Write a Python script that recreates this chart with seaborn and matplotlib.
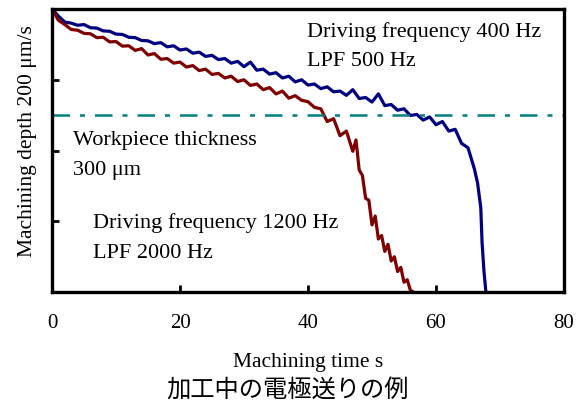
import matplotlib
matplotlib.use("Agg")
import matplotlib.pyplot as plt
import seaborn as sns
import pandas as pd

# Driving frequency 400 Hz / LPF 500 Hz (blue)
t_400 = [0, 1, 2, 3, 4, 5, 6, 7, 8, 9, 10, 11, 12, 13, 14, 15, 16, 17, 18, 19,
         20, 21, 22, 23, 24, 25, 26, 27, 28, 29, 30, 31, 32, 33, 34, 35, 36, 37,
         38, 39, 40, 41, 42, 43, 44, 45, 46, 47, 48, 49, 50, 51, 52, 53, 54, 55,
         56, 57, 58, 59, 60, 61, 62, 63, 64, 65, 66, 66.5, 67, 67.2, 67.5, 67.8]
d_400 = [0, 20, 37, 40, 46, 44, 53, 54, 62, 63, 71, 72, 80, 81, 89, 90, 98, 95,
         107, 104, 116, 113, 125, 122, 134, 131, 143, 140, 153, 148, 163, 150,
         173, 170, 184, 180, 195, 190, 206, 200, 215, 212, 225, 220, 234, 232,
         244, 228, 253, 250, 263, 240, 273, 270, 286, 282, 301, 298, 314, 305,
         327, 318, 345, 340, 380, 392, 452, 492, 562, 660, 742, 800]

# Driving frequency 1200 Hz / LPF 2000 Hz (dark red)
t_1200 = [0, 1, 2, 3, 4, 5, 6, 7, 8, 9, 10, 11, 12, 13, 14, 15, 16, 17, 18, 19,
          20, 21, 22, 23, 24, 25, 26, 27, 28, 29, 30, 31, 32, 33, 34, 35, 36, 37,
          38, 39, 40, 41, 42, 43, 44, 45, 46, 47, 47.5, 48, 48.5, 49, 49.5, 50,
          50.5, 51, 51.5, 52, 52.5, 53, 53.5, 54, 54.5, 55, 55.5, 56, 56.5]
d_1200 = [0, 32, 44, 58, 60, 69, 70, 81, 80, 93, 92, 105, 104, 117, 112, 130,
          126, 142, 140, 153, 150, 164, 160, 174, 170, 185, 182, 195, 190, 205,
          200, 216, 212, 228, 222, 240, 232, 252, 245, 258, 262, 278, 282, 318,
          310, 358, 345, 402, 370, 455, 470, 535, 540, 610, 585, 650, 640, 685,
          665, 712, 700, 742, 730, 772, 765, 795, 800]

thickness = 300
x_ticks = [0, 20, 40, 60, 80]
y_ticks = [200, 400, 600]

sns.set_theme(style="white")
plt.rcParams["font.family"] = ["Liberation Serif", "DejaVu Serif"]
plt.rcParams["text.color"] = "black"
plt.rcParams["axes.labelcolor"] = "black"

fig = plt.figure(figsize=(5.87, 4.08), dpi=100)
ax = fig.add_axes([0.0886, 0.284, 0.8722, 0.694])

df_b = pd.DataFrame({"t": t_400, "d": d_400})
df_r = pd.DataFrame({"t": t_1200, "d": d_1200})
sns.lineplot(data=df_b, x="t", y="d", ax=ax, color="#000080", lw=2.3,
             estimator=None, sort=False)
sns.lineplot(data=df_r, x="t", y="d", ax=ax, color="#7F0000", lw=2.3,
             estimator=None, sort=False)
ax.axhline(thickness, color="#008080", lw=1.8, dashes=(7, 4, 2, 4))

ax.set_xlim(0, 80)
ax.set_ylim(800, 0)
ax.set_xticks(x_ticks)
ax.set_yticks(y_ticks)
ax.set_yticklabels([])
ax.tick_params(axis="both", direction="in", length=5, width=2, colors="black",
               labelsize=15, pad=16, labelcolor="black")
ax.tick_params(axis="y", left=True)
ax.tick_params(axis="x", bottom=True)
for s in ax.spines.values():
    s.set_linewidth(2.4)
    s.set_color("black")

ax.set_xlabel("Machining time s", fontsize=15.5, labelpad=14, color="black")
ax.set_ylabel("Machining depth 200 \u03bcm/s", fontsize=15.5, color="black")
ax.yaxis.set_label_coords(-0.029, 0.534)

fs = 16
ax.text(39.8, 79, "Driving frequency 400 Hz", fontsize=fs, va="baseline")
ax.text(39.8, 161, "LPF 500 Hz", fontsize=fs, va="baseline")
ax.text(3.3, 384, "Workpiece thickness", fontsize=fs, va="baseline")
ax.text(3.3, 469, "300 \u03bcm", fontsize=fs, va="baseline")
ax.text(6.4, 619, "Driving frequency 1200 Hz", fontsize=fs, va="baseline")
ax.text(6.4, 704, "LPF 2000 Hz", fontsize=fs, va="baseline")

fig.text(0.49, 0.042, "加工中の電極送りの例", fontsize=17.5, ha="center",
         va="center", color="black", family=["Noto Sans CJK JP", "DejaVu Sans"])

fig.savefig("out.png", dpi=100)
